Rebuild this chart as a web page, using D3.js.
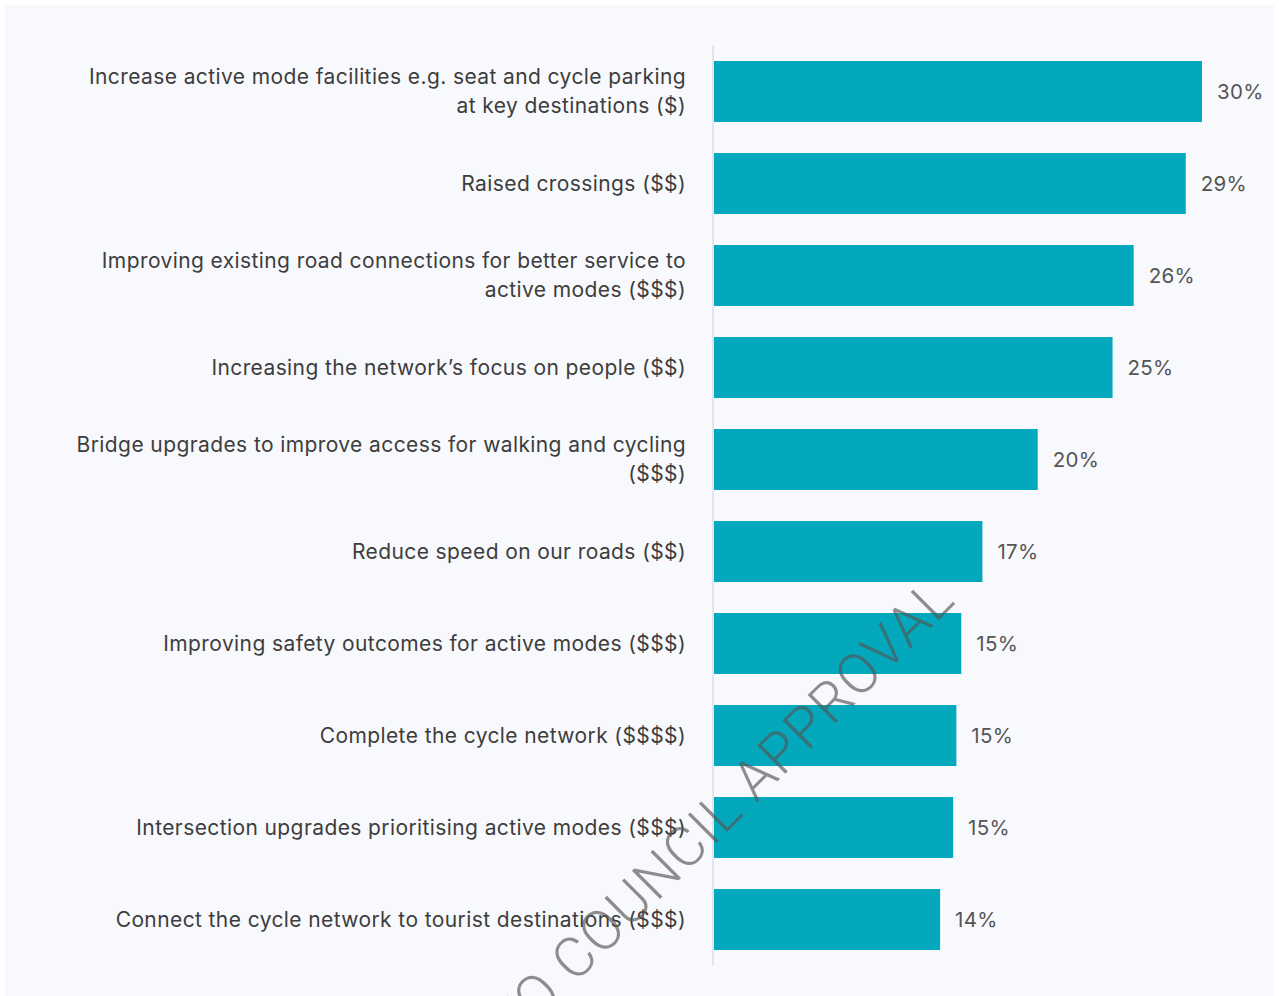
<!DOCTYPE html>
<html lang="en">
<head>
    <meta charset="UTF-8">
    <script src="https://cdn.jsdelivr.net/npm/d3@7"></script>
    <title>Active mode priorities</title>
    <style>
        body {
            margin: 0;
            background: #ffffff;
        }
        svg {
            display: block;
            font-family: Inter, "Noto Sans", sans-serif;
        }
        .cat-label {
            fill: #3d3d3d;
            font-size: 21px;
            letter-spacing: 0.4px;
        }
        .val-label {
            fill: #555555;
            font-size: 20.5px;
            letter-spacing: 0.3px;
        }
    </style>
</head>
<body>
    <div class="fig"></div>

    <script>
        /*------------------- data --------------------*/
        // categories, top to bottom ("\n" = line break in the label)
        const categories = [
            "Increase active mode facilities e.g. seat and cycle parking\nat key destinations ($)",
            "Raised crossings ($$)",
            "Improving existing road connections for better service to\nactive modes ($$$)",
            "Increasing the network\u2019s focus on people ($$)",
            "Bridge upgrades to improve access for walking and cycling\n($$$)",
            "Reduce speed on our roads ($$)",
            "Improving safety outcomes for active modes ($$$)",
            "Complete the cycle network ($$$$)",
            "Intersection upgrades prioritising active modes ($$$)",
            "Connect the cycle network to tourist destinations ($$$)"
        ];
        // share of respondents (%)
        const shares = [30, 29, 25.8, 24.5, 19.9, 16.5, 15.2, 14.9, 14.7, 13.9];
        const watermark = "SUBJECT TO COUNCIL APPROVAL";

        /*------------------- window --------------------*/
        const width = 1279;
        const height = 996;

        const svg = d3.select(".fig").append("svg")
            .attr("width", width)
            .attr("height", height);

        // light panel behind the chart
        svg.append("rect")
            .attr("x", 5)
            .attr("y", 5)
            .attr("width", width - 10)
            .attr("height", height - 5)
            .attr("fill", "#f8f9fc");

        /*------------------- scales --------------------*/
        const x = d3.scaleLinear()
            .domain([0, 30])
            .range([714, 1202]);

        const y = d3.scaleBand()
            .domain(categories)
            .range([45.5, 965.5])
            .paddingInner(0.337)
            .paddingOuter(0.1685);

        // vertical baseline
        svg.append("line")
            .attr("x1", x(0) - 1)
            .attr("x2", x(0) - 1)
            .attr("y1", y.range()[0])
            .attr("y2", y.range()[1])
            .attr("stroke", "#dcdde0")
            .attr("stroke-width", 1.5);

        /*------------------- bars --------------------*/
        svg.selectAll(".bar")
            .data(categories)
            .enter()
            .append("rect")
            .attr("class", "bar")
            .attr("x", x(0))
            .attr("y", d => y(d))
            .attr("width", (d, i) => x(shares[i]) - x(0))
            .attr("height", y.bandwidth())
            .attr("fill", "#03a8bc");

        // value labels
        svg.selectAll(".val-label")
            .data(categories)
            .enter()
            .append("text")
            .attr("class", "val-label")
            .attr("x", (d, i) => x(shares[i]) + 15)
            .attr("y", d => y(d) + y.bandwidth() / 2)
            .attr("dy", "0.35em")
            .text((d, i) => Math.round(shares[i]) + "%");

        // category labels, right aligned
        const lineHeight = 29;
        const labels = svg.selectAll(".cat-label")
            .data(categories)
            .enter()
            .append("text")
            .attr("class", "cat-label")
            .attr("text-anchor", "end")
            .attr("y", d => y(d) + y.bandwidth() / 2);

        labels.each(function(d) {
            const lines = d.split("\n");
            const start = -(lines.length - 1) * lineHeight / 2;
            d3.select(this).selectAll("tspan")
                .data(lines)
                .enter()
                .append("tspan")
                .attr("x", 686)
                .attr("dy", (l, j) => j === 0 ? (start / 21 + 0.35) + "em" : lineHeight + "px")
                .text(l => l);
        });

        /*------------------- watermark --------------------*/
        svg.append("text")
            .attr("transform", "translate(957,602) rotate(-45)")
            .attr("text-anchor", "end")
            .attr("font-size", 56)
            .attr("font-weight", 300)
            .attr("letter-spacing", 1.3)
            .attr("fill", "#555555")
            .attr("fill-opacity", 0.66)
            .style("font-family", "Roboto, Lato, sans-serif")
            .text(watermark);
    </script>
</body>
</html>
